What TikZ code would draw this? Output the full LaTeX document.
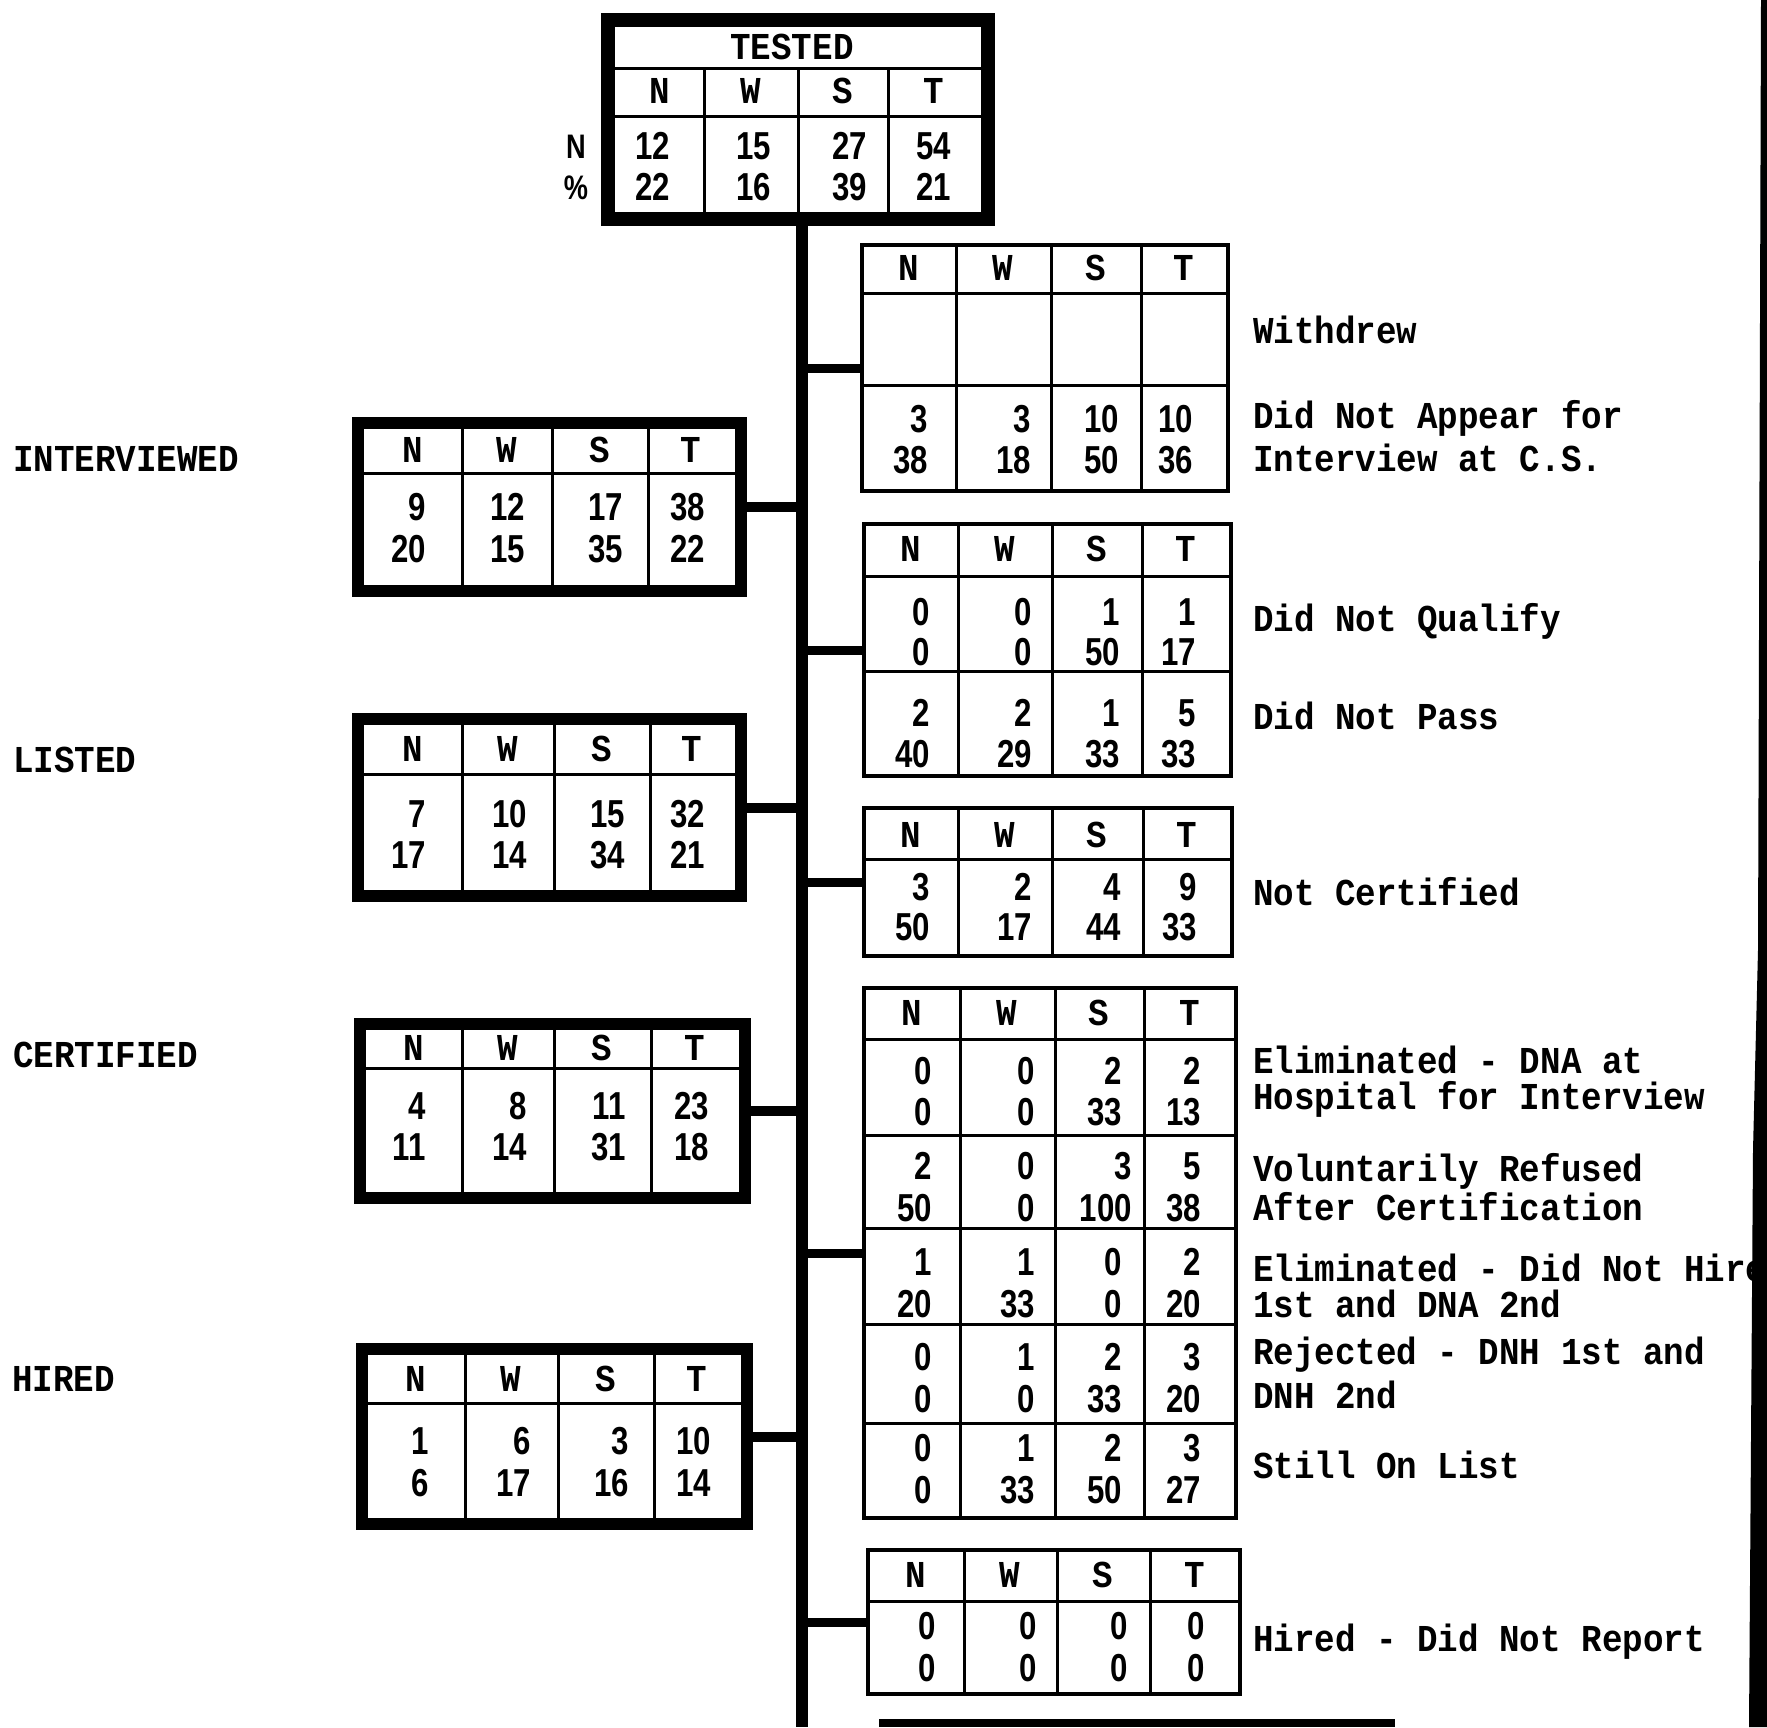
\documentclass[tikz,border=0pt]{standalone}
\usepackage{fontspec}
\newfontfamily\typefont{Liberation Mono}[FakeStretch=0.9]
\newfontfamily\digitfont{Liberation Sans}[FakeStretch=0.8]
\tikzset{
  frame/.style={draw,line width=12pt,anchor=north west,inner sep=0pt,outer sep=0pt},
  rbox/.style={draw,line width=4pt,anchor=north west,inner sep=0pt,outer sep=0pt},
  rule/.style={line width=3pt},
  conn/.style={line width=9pt},
  trunk/.style={line width=12pt},
  hd/.style={font=\typefont\bfseries\fontsize{38}{40}\selectfont,inner sep=0pt,text height=22pt,text depth=0pt},
  lbl/.style={hd,anchor=west},
  num/.style={font=\digitfont\bfseries\fontsize{39}{41}\selectfont,inner sep=0pt,anchor=east,text height=27pt,text depth=0pt},
  rowlbl/.style={font=\digitfont\bfseries\fontsize{34}{36}\selectfont,inner sep=0pt,text height=24pt,text depth=0pt},
}
\begin{document}
\begin{tikzpicture}[x=1pt,y=-1pt]
  \fill[white] (0,0) rectangle (1767,1727); \useasboundingbox (0,0) rectangle (1767,1727);
  % tested
  \node[frame,line width=14pt,minimum width=380pt,minimum height=199pt] (tested) at (608,20) {};
  \draw[rule] (615,68)--(981,68) (615,116)--(981,116); \foreach \c in {704,798,888} \draw[rule] (\c,68)--(\c,212);
  \node[hd] (t-title) at (792,48) {TESTED};
  \foreach \cx/\h [count=\i] in {660/N,751/W,843/S,934/T} \node[hd] (t-h\i) at (\cx,92) {\h};
  \foreach \cx/\a/\b [count=\i] in {670/12/22,771/15/16,867/27/39,951/54/21} {\node[num] (t-a\i) at (\cx,146) {\a}; \node[num] (t-b\i) at (\cx,187) {\b};}
  \node[rowlbl] (t-n) at (576,146) {N}; \node[rowlbl] (t-pc) at (576,187) {\%};
  \coordinate (tkend) at (802,1727); \draw[trunk] (tested.south -| tkend) -- (tkend);
  % interviewed
  \node[lbl] (l-intv) at (13,460) {INTERVIEWED};
  \node[frame,minimum width=383pt,minimum height=168pt] (intv) at (358,423) {};
  \draw[rule] (364,473)--(735,473); \foreach \c in {462,552,648} \draw[rule] (\c,429)--(\c,585);
  \foreach \cx/\h [count=\i] in {413/N,507/W,600/S,691/T} \node[hd] (iv-h\i) at (\cx,451) {\h};
  \foreach \cx/\a/\b [count=\i] in {426/9/20,525/12/15,623/17/35,705/38/22} {\node[num] (iv-a\i) at (\cx,507) {\a}; \node[num] (iv-b\i) at (\cx,549) {\b};}
  \draw[conn,line width=10pt] (intv.east) -- (intv.east -| tkend);
  % listed
  \node[lbl] (l-list) at (13,761) {LISTED};
  \node[frame,minimum width=383pt,minimum height=177pt] (listed) at (358,719) {};
  \draw[rule] (364,774)--(735,774); \foreach \c in {462,554,650} \draw[rule] (\c,725)--(\c,890);
  \foreach \cx/\h [count=\i] in {413/N,508/W,602/S,692/T} \node[hd] (ls-h\i) at (\cx,750) {\h};
  \foreach \cx/\a/\b [count=\i] in {426/7/17,527/10/14,625/15/34,705/32/21} {\node[num] (ls-a\i) at (\cx,814) {\a}; \node[num] (ls-b\i) at (\cx,855) {\b};}
  \draw[conn,line width=10pt] (listed.east) -- (listed.east -| tkend);
  % certified
  \node[lbl] (l-cert) at (13,1056) {CERTIFIED};
  \node[frame,minimum width=385pt,minimum height=174pt] (cert) at (360,1024) {};
  \draw[rule] (366,1068)--(739,1068); \foreach \c in {462,554,651} \draw[rule] (\c,1030)--(\c,1192);
  \foreach \cx/\h [count=\i] in {414/N,508/W,602/S,695/T} \node[hd] (ce-h\i) at (\cx,1049) {\h};
  \foreach \cx/\a/\b [count=\i] in {426/4/11,527/8/14,626/11/31,709/23/18} {\node[num] (ce-a\i) at (\cx,1106) {\a}; \node[num] (ce-b\i) at (\cx,1147) {\b};}
  \draw[conn,line width=10pt] (cert.east) -- (cert.east -| tkend);
  % hired
  \node[lbl] (l-hire) at (12,1380) {HIRED};
  \node[frame,minimum width=385pt,minimum height=175pt] (hired) at (362,1349) {};
  \draw[rule] (368,1403)--(741,1403); \foreach \c in {465,558,654} \draw[rule] (\c,1355)--(\c,1518);
  \foreach \cx/\h [count=\i] in {416/N,511/W,606/S,697/T} \node[hd] (hi-h\i) at (\cx,1380) {\h};
  \foreach \cx/\a/\b [count=\i] in {429/1/6,531/6/17,629/3/16,711/10/14} {\node[num] (hi-a\i) at (\cx,1441) {\a}; \node[num] (hi-b\i) at (\cx,1483) {\b};}
  \draw[conn,line width=10pt] (hired.east) -- (hired.east -| tkend);
  % withdrew / did not appear
  \node[rbox,minimum width=366pt,minimum height=246pt] (wdr) at (862,245) {};
  \draw[rule] (862,293)--(1228,293) (862,385)--(1228,385); \foreach \c in {956,1051,1141} \draw[rule] (\c,245)--(\c,491);
  \foreach \cx/\h [count=\i] in {909/N,1003/W,1096/S,1184/T} \node[hd] (wd-h\i) at (\cx,269) {\h};
  \foreach \cx/\a/\b [count=\i] in {928/3/38,1031/3/18,1119/10/50,1193/10/36} {\node[num] (wd-a\i) at (\cx,419) {\a}; \node[num] (wd-b\i) at (\cx,460) {\b};}
  \draw[conn] (wdr.west -| tkend) -- (wdr.west);
  \node[lbl] (wd-l1) at (1253,332) {Withdrew}; \node[lbl] (wd-l2) at (1253,417) {Did Not Appear for}; \node[lbl] (wd-l3) at (1253,460) {Interview at C.S.};
  % did not qualify / pass
  \node[rbox,minimum width=367pt,minimum height=252pt] (qual) at (864,524) {};
  \draw[rule] (864,576)--(1231,576) (864,671)--(1231,671); \foreach \c in {958,1052,1142} \draw[rule] (\c,524)--(\c,776);
  \foreach \cx/\h [count=\i] in {911/N,1005/W,1097/S,1186/T} \node[hd] (qu-h\i) at (\cx,550) {\h};
  \foreach \cx/\a/\b [count=\i] in {930/0/0,1032/0/0,1120/1/50,1196/1/17} {\node[num] (qu-a\i) at (\cx,612) {\a}; \node[num] (qu-b\i) at (\cx,652) {\b};}
  \foreach \cx/\a/\b [count=\i] in {930/2/40,1032/2/29,1120/1/33,1196/5/33} {\node[num] (qu-c\i) at (\cx,713) {\a}; \node[num] (qu-d\i) at (\cx,754) {\b};}
  \draw[conn] (qual.west -| tkend) -- (qual.west);
  \node[lbl] (qu-l1) at (1253,620) {Did Not Qualify}; \node[lbl] (qu-l2) at (1253,718) {Did Not Pass};
  % not certified
  \node[rbox,minimum width=368pt,minimum height=148pt] (ncert) at (864,808) {};
  \draw[rule] (864,859)--(1232,859); \foreach \c in {958,1052,1143} \draw[rule] (\c,808)--(\c,956);
  \foreach \cx/\h [count=\i] in {911/N,1005/W,1097/S,1187/T} \node[hd] (nc-h\i) at (\cx,836) {\h};
  \foreach \cx/\a/\b [count=\i] in {930/3/50,1032/2/17,1121/4/44,1197/9/33} {\node[num] (nc-a\i) at (\cx,887) {\a}; \node[num] (nc-b\i) at (\cx,927) {\b};}
  \draw[conn] (ncert.west -| tkend) -- (ncert.west);
  \node[lbl] (nc-l1) at (1253,894) {Not Certified};
  % eliminated etc.
  \node[rbox,minimum width=372pt,minimum height=530pt] (elim) at (864,988) {};
  \foreach \r in {1039,1135,1228,1324,1423} \draw[rule] (864,\r)--(1236,\r); \foreach \c in {960,1055,1144} \draw[rule] (\c,988)--(\c,1518);
  \foreach \cx/\h [count=\i] in {912/N,1007/W,1099/S,1190/T} \node[hd] (el-h\i) at (\cx,1014) {\h};
  \foreach \cx/\a/\b [count=\i] in {932/0/0,1035/0/0,1122/2/33,1201/2/13} {\node[num] (el-a\i) at (\cx,1071) {\a}; \node[num] (el-b\i) at (\cx,1112) {\b};}
  \foreach \cx/\a/\b [count=\i] in {932/2/50,1035/0/0,1132/3/100,1201/5/38} {\node[num] (el-c\i) at (\cx,1166) {\a}; \node[num] (el-d\i) at (\cx,1208) {\b};}
  \foreach \cx/\a/\b [count=\i] in {932/1/20,1035/1/33,1122/0/0,1201/2/20} {\node[num] (el-e\i) at (\cx,1262) {\a}; \node[num] (el-f\i) at (\cx,1304) {\b};}
  \foreach \cx/\a/\b [count=\i] in {932/0/0,1035/1/0,1122/2/33,1201/3/20} {\node[num] (el-g\i) at (\cx,1357) {\a}; \node[num] (el-h\i) at (\cx,1399) {\b};}
  \foreach \cx/\a/\b [count=\i] in {932/0/0,1035/1/33,1122/2/50,1201/3/27} {\node[num] (el-k\i) at (\cx,1448) {\a}; \node[num] (el-m\i) at (\cx,1490) {\b};}
  \draw[conn] (elim.west -| tkend) -- (elim.west);
  \node[lbl] (el-l1) at (1253,1062) {Eliminated - DNA at}; \node[lbl] (el-l2) at (1253,1098) {Hospital for Interview};
  \node[lbl] (el-l3) at (1253,1170) {Voluntarily Refused}; \node[lbl] (el-l4) at (1253,1209) {After Certification};
  \node[lbl] (el-l5) at (1253,1270) {Eliminated - Did Not Hire}; \node[lbl] (el-l6) at (1253,1306) {1st and DNA 2nd};
  \node[lbl] (el-l7) at (1253,1353) {Rejected - DNH 1st and}; \node[lbl] (el-l8) at (1253,1397) {DNH 2nd};
  \node[lbl] (el-l9) at (1253,1467) {Still On List};
  % hired - did not report
  \node[rbox,minimum width=372pt,minimum height=144pt] (dnr) at (868,1550) {};
  \draw[rule] (868,1601)--(1240,1601); \foreach \c in {964,1057,1150} \draw[rule] (\c,1550)--(\c,1694);
  \foreach \cx/\h [count=\i] in {916/N,1010/W,1103/S,1195/T} \node[hd] (dn-h\i) at (\cx,1576) {\h};
  \foreach \cx/\a/\b [count=\i] in {936/0/0,1037/0/0,1128/0/0,1205/0/0} {\node[num] (dn-a\i) at (\cx,1626) {\a}; \node[num] (dn-b\i) at (\cx,1668) {\b};}
  \draw[conn] (dnr.west -| tkend) -- (dnr.west);
  \node[lbl] (dn-l1) at (1253,1640) {Hired - Did Not Report};
  % cut edges
  \draw[line width=8pt] (879,1723)--(1395,1723);
  \fill (1761,0)--(1767,0)--(1767,1727)--(1749,1727)--(1753,1150)--(1758,950)--cycle;
\end{tikzpicture}
\end{document}
